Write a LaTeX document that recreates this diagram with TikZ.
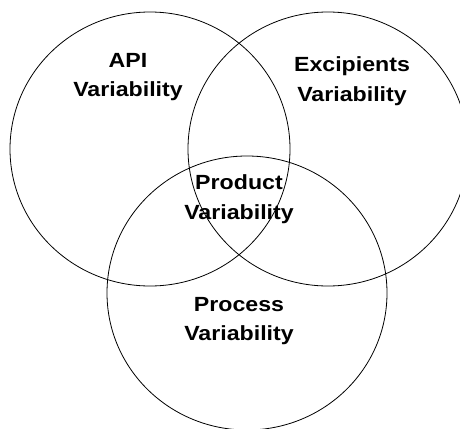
\documentclass[tikz,border=0pt]{standalone}
\usepackage{fontspec}
\setmainfont{Liberation Sans}
\begin{document}
\begin{tikzpicture}[x=1pt,y=-1pt,
  ring/.style={draw=black,line width=0.8pt},
  lbl/.style={font=\bfseries\fontsize{20.5}{29.5}\selectfont,align=center,inner sep=0pt,xscale=1.13}]
\useasboundingbox (0,0) rectangle (460,428);
\clip (0,0) rectangle (460,428);
\draw[ring] (150,149) ellipse [x radius=140, y radius=137];
\draw[ring] (328,149) ellipse [x radius=140, y radius=137];
\draw[ring] (247,293) ellipse [x radius=140, y radius=137];
\node[lbl] (api) at (128,77) {API\\Variability};
\node[lbl] (exc) at (352,81) {Excipients\\Variability};
\node[lbl] (prod) at (239,199) {Product\\Variability};
\node[lbl] (proc) at (239,321) {Process\\Variability};
\end{tikzpicture}
\end{document}
